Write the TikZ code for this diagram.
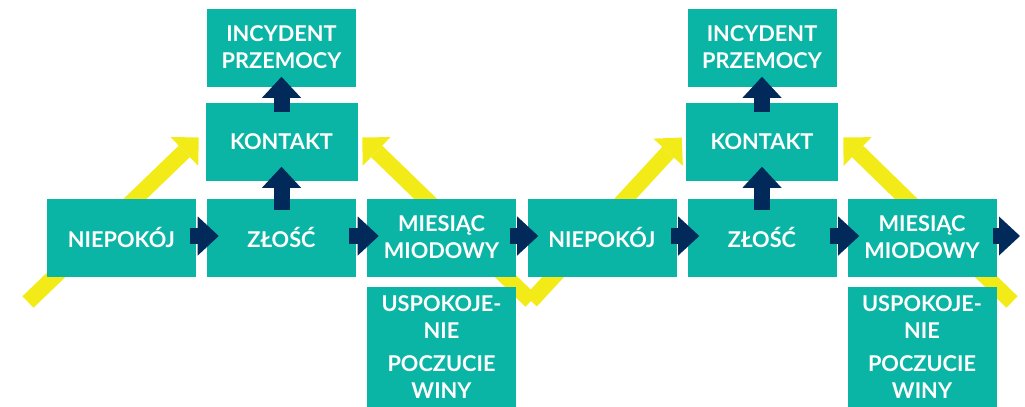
\documentclass[tikz,border=0pt]{standalone}
\usepackage{fontspec}
\setmainfont{Lato}
\usetikzlibrary{arrows.meta,calc,backgrounds}

\definecolor{boxteal}{RGB}{11,181,165}
\definecolor{arrownavy}{RGB}{1,41,90}
\definecolor{swingyellow}{RGB}{242,235,23}

\tikzset{
  phase/.style={fill=boxteal, text=white, font=\bfseries\fontsize{16.3}{20.3}\selectfont,
    align=center, inner sep=0pt, minimum width=111.75pt, minimum height=58.5pt},
  flow/.style={draw=arrownavy, line width=12pt,
    -{Triangle[length=15.75pt,width=29.25pt,line width=0pt]}},
  swing/.style={draw=swingyellow, line width=12pt,
    -{Triangle[length=15pt,width=30pt,line width=0pt]}},
}

\begin{document}
\begin{tikzpicture}[x=0.75pt, y=-0.75pt]
  \useasboundingbox (0,0) rectangle (1025,407);
%  \draw [help lines] (0,0) grid [step=50] (1025,407);

  % two turns of the cycle
  \foreach \g/\dx in {1/0, 2/480.5} {
    \node [phase] (incydent\g) at (281.5+\dx,47.5) {INCYDENT\\PRZEMOCY};
    \node [phase, minimum width=114pt] (kontakt\g) at (281.5+\dx,141.5) {KONTAKT};
    \node [phase] (niepokoj\g) at (121.5+\dx,237.5) {NIEPOKÓJ};
    \node [phase] (zlosc\g) at (281.5+\dx,237.5) {ZŁOŚĆ};
    \node [phase] (miesiac\g) at (441.5+\dx,237.5) {MIESIĄC\\MIODOWY};
    \node [phase, minimum height=90pt] (uspokojenie\g) at (441.5+\dx,347)
      {USPOKOJE-\\NIE\\[5pt]POCZUCIE\\WINY};
    \draw [flow] ($(niepokoj\g.east)+(-6,-1.5)$) -- ($(zlosc\g.west)+(12,-1.5)$);
    \draw [flow] ($(zlosc\g.east)+(-7,-1.5)$) -- ($(miesiac\g.west)+(12,-1.5)$);
    \draw [flow] ($(zlosc\g.north)+(0,12)$) -- ($(kontakt\g.south)+(0,-14)$);
    \draw [flow] ($(kontakt\g.north)+(0,10)$) -- ($(incydent\g.south)+(0,-10)$);
  }

  \coordinate (exit) at (1020,236);
  \draw [flow] ($(miesiac1.east)+(-6,-1.5)$) -- ($(niepokoj2.west)+(11,-1.5)$);
  \draw [flow] ($(miesiac2.east)+(-4,-1.5)$) -- (exit);

  % yellow zigzag behind the boxes
  \coordinate (tailA) at (28,302);
  \coordinate (dip) at (531,301);
  \coordinate (tailB) at (1012,302);
  \begin{scope}[on background layer]
    \draw [swing] (tailA) -- ($(kontakt1.west)+(-6.5,-4)$);
    \draw [swing] (dip) -- ($(kontakt1.east)+(4.5,-4)$);
    \draw [swing] (dip) -- ($(kontakt2.west)+(-4,-4)$);
    \draw [swing] (tailB) -- ($(kontakt2.east)+(5,-4)$);
  \end{scope}
\end{tikzpicture}
\end{document}
